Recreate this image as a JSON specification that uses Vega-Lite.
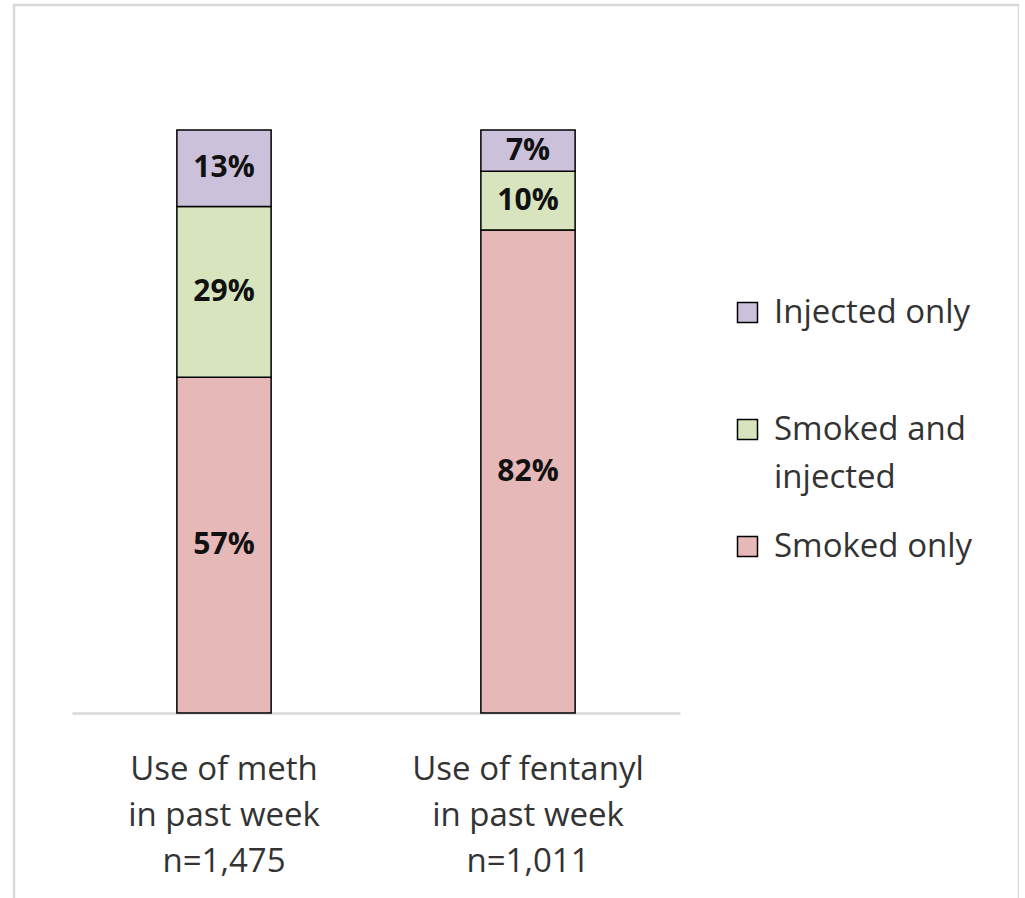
{
  "$schema": "https://vega.github.io/schema/vega-lite/v6.json",
  "width": 1005,
  "height": 900,
  "autosize": {"type": "none"},
  "padding": {"left": 14, "top": 5, "right": 0, "bottom": 0},
  "background": "white",
  "config": {
    "view": {"stroke": "#d9d9d9", "strokeWidth": 2.5},
    "font": "Open Sans"
  },
  "data": {
    "values": [
      {"drug": "Use of meth|in past week|n=1,475", "method": "Smoked only", "value": 57, "label": "57%"},
      {"drug": "Use of meth|in past week|n=1,475", "method": "Smoked and injected", "value": 29, "label": "29%"},
      {"drug": "Use of meth|in past week|n=1,475", "method": "Injected only", "value": 13, "label": "13%"},
      {"drug": "Use of fentanyl|in past week|n=1,011", "method": "Smoked only", "value": 82, "label": "82%"},
      {"drug": "Use of fentanyl|in past week|n=1,011", "method": "Smoked and injected", "value": 10, "label": "10%"},
      {"drug": "Use of fentanyl|in past week|n=1,011", "method": "Injected only", "value": 7, "label": "7%"}
    ]
  },
  "encoding": {
    "x": {
      "field": "drug",
      "type": "nominal",
      "sort": null,
      "scale": {"range": [58, 666], "paddingInner": 0.69, "paddingOuter": 0.345},
      "axis": {
        "title": null,
        "labelAngle": 0,
        "labelExpr": "split(datum.label, '|')",
        "labelFont": "Open Sans",
        "labelFontSize": 33,
        "labelLineHeight": 46,
        "labelColor": "#333333",
        "labelPadding": 40,
        "labelLimit": 400,
        "labelBaseline": "top",
        "ticks": false,
        "domainColor": "#d9d9d9",
        "domainWidth": 2.5,
        "offset": -192,
        "grid": false
      }
    }
  },
  "layer": [
    {
      "mark": {"type": "bar", "stroke": "#000000", "strokeWidth": 1.5},
      "encoding": {
        "y": {
          "field": "value",
          "type": "quantitative",
          "stack": "zero",
          "scale": {"domain": [0, 99], "range": [708, 125], "nice": false, "zero": true},
          "axis": null
        },
        "order": {"field": "method", "sort": "descending"},
        "color": {
          "field": "method",
          "type": "nominal",
          "scale": {
            "domain": ["Injected only", "Smoked and injected", "Smoked only"],
            "range": ["#CCC1DA", "#D7E4BD", "#E6B9B8"]
          },
          "legend": {
            "title": null,
            "orient": "none",
            "legendX": 717,
            "legendY": 291,
            "symbolType": "square",
            "symbolSize": 400,
            "symbolStrokeColor": "#000000",
            "symbolStrokeWidth": 1.5,
            "symbolOpacity": 1,
            "labelFont": "Open Sans",
            "labelFontSize": 33,
            "labelColor": "#333333",
            "labelOffset": 10,
            "labelLimit": 400,
            "rowPadding": 35,
            "labelExpr": "datum.label == 'Smoked and injected' ? ['Smoked and', 'injected'] : [datum.label, ' ']",
            "encode": {"labels": {"update": {"lineHeight": {"value": 48}}}}
          }
        }
      }
    },
    {
      "transform": [
        {"stack": "value", "groupby": ["drug"], "sort": [{"field": "method", "order": "descending"}], "as": ["y0", "y1"]},
        {"fold": ["y0", "y1"], "as": ["k", "v"]},
        {"aggregate": [{"op": "mean", "field": "v", "as": "mid"}], "groupby": ["drug", "method", "label"]}
      ],
      "mark": {"type": "text", "font": "Open Sans", "fontWeight": "bold", "fontSize": 30, "color": "#111111", "baseline": "middle", "align": "center"},
      "encoding": {
        "y": {"field": "mid", "type": "quantitative", "scale": {"domain": [0, 99], "range": [708, 125], "nice": false, "zero": true}},
        "text": {"field": "label"}
      }
    }
  ]
}
